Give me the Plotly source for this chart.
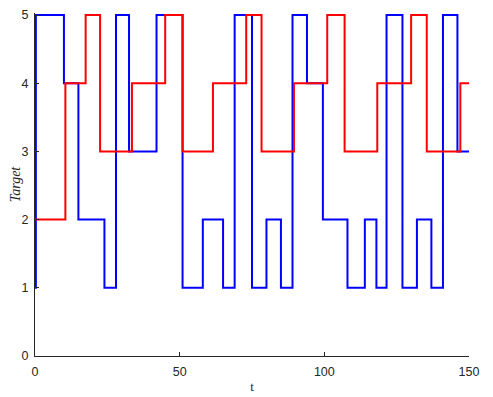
import plotly.graph_objects as go

# step change times and levels
blue_t = [0, 0.3, 10, 15, 24, 28, 32.5, 42, 51, 58, 65, 69, 75, 80, 85, 89, 94,
          99.5, 108, 114, 118, 121.5, 127, 132, 137, 141, 146, 150]
blue_y = [1, 5, 4, 2, 1, 5, 3, 5, 1, 2, 1, 5, 1, 2, 1, 5, 4,
          2, 1, 2, 1, 5, 1, 2, 1, 5, 3, 3]

red_t = [0, 10.5, 17.5, 22.5, 33.5, 45, 51, 61.5, 73, 78.3, 89.5, 101, 107,
         118.3, 130, 135.4, 147, 150]
red_y = [2, 4, 5, 3, 4, 5, 3, 4, 5, 3, 4, 5, 3, 4, 5, 3, 4, 4]

x_ticks = [0, 50, 100, 150]
y_ticks = [0, 1, 2, 3, 4, 5]

fig = go.Figure()
fig.add_trace(go.Scatter(x=blue_t, y=blue_y, mode="lines",
                         line=dict(color="#0000FF", width=2, shape="hv"),
                         showlegend=False))
fig.add_trace(go.Scatter(x=red_t, y=red_y, mode="lines",
                         line=dict(color="#FF0000", width=2, shape="hv"),
                         showlegend=False))

axis_common = dict(
    showgrid=False, zeroline=False, showline=True, linecolor="#262626",
    linewidth=1, ticks="inside", ticklen=4, tickcolor="#262626",
    automargin=False,
    tickfont=dict(family="Liberation Sans, Arial", size=12.5, color="#262626"),
)

fig.update_xaxes(range=[0, 150], tickvals=x_ticks, ticklabelstandoff=4, **axis_common,
                 title=dict(text="t", standoff=3,
                            font=dict(family="Liberation Serif", size=13, color="#262626")))
fig.update_yaxes(range=[0, 5.03], tickvals=y_ticks, ticklabelstandoff=3, **axis_common,
                 title=dict(text="<i>Target</i>", standoff=6,
                            font=dict(family="Liberation Serif", size=14, color="#262626")))

# page body adds an 8px offset, so the figure is sized to fit inside the window
fig.update_layout(
    width=485, height=389,
    margin=dict(l=27, r=24, t=5, b=41),
    plot_bgcolor="white", paper_bgcolor="white",
)

fig.write_html("out.html")
